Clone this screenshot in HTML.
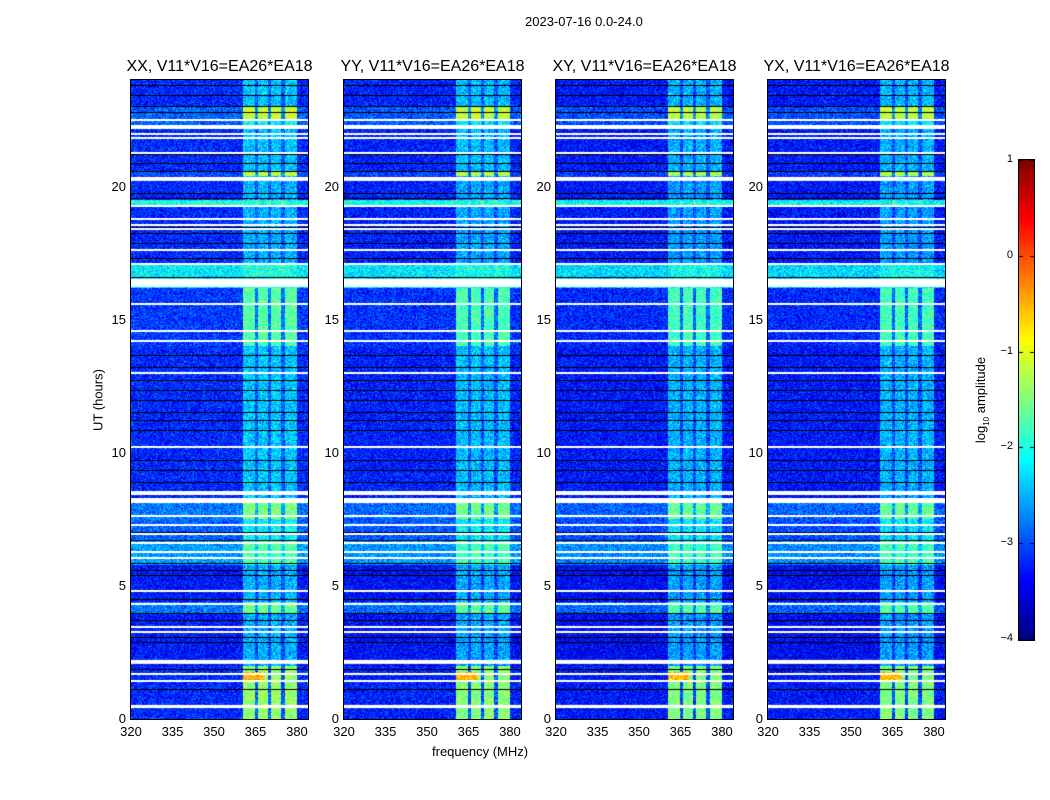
<!DOCTYPE html>
<html><head><meta charset="utf-8">
<style>
body{margin:0;background:#fff;font-family:"Liberation Sans",sans-serif;}
#root{position:relative;width:1050px;height:800px;overflow:hidden;background:#fff;}
.t{position:absolute;font-size:13px;color:#000;white-space:nowrap;}
.pt{position:absolute;font-size:16px;color:#000;white-space:nowrap;transform:translateX(-50%);}
canvas{position:absolute;}
.frame{position:absolute;border:1px solid #000;box-sizing:border-box;}
</style></head><body>
<div id="root">
<div class="t" style="left:525px;top:14px">2023-07-16 0.0-24.0</div>
<div class="t" style="left:432px;top:744px">frequency (MHz)</div>
<div class="t" style="left:98px;top:400px;transform:translate(-50%,-50%) rotate(-90deg)">UT (hours)</div>
<div class="t" style="left:982px;top:400px;transform:translate(-50%,-50%) rotate(-90deg)">log<sub style="font-size:8px">10</sub> amplitude</div>
<canvas id="cb" width="15" height="480" style="left:1019px;top:160px"></canvas>
<div class="frame" style="left:1018px;top:159px;width:17px;height:482px"></div>
</div>
<script>
// ---- data ----
const panelTitles=["XX, V11*V16=EA26*EA18","YY, V11*V16=EA26*EA18","XY, V11*V16=EA26*EA18","YX, V11*V16=EA26*EA18"];
const panelOffsets=[0,-0.05,-0.1,-0.1];
const xTicks=[320,335,350,365,380];
const yTicks=[0,5,10,15,20];
const cbTicks=[1,0,-1,-2,-3,-4];
// [startHour,endHour,bandLevel,backgroundLevel]
const segments=[[0,2,-1.4,-3.2],[2,4.0,-2.5,-3.3],[4.0,4.4,-1.6,-2.8],[4.4,5.8,-2.5,-3.3],[5.8,6.7,-1.7,-2.6],[6.7,7.5,-2.1,-2.9],[7.5,8.1,-1.5,-2.8],[8.1,14.0,-2.4,-3.2],[14.0,16.2,-1.7,-3.1],[16.2,17.1,-2.0,-2.2],[17.1,19.3,-2.5,-3.2],[19.3,19.5,-2.0,-2.0],[19.5,20.4,-2.5,-3.2],[20.4,20.6,-1.2,-3.0],[20.6,22.3,-2.4,-3.2],[22.3,22.5,-2.1,-2.9],[22.5,23.0,-1.1,-2.9],[23,24,-2.4,-3.2]];
const hotSpots=[[1.45,1.75,360.5,368,-0.45]];
const bandRange=[360.5,380];
const bandGaps=[365.5,370,375];
const flagThick=[[0.41,0.53],[2.07,2.22],[8.11,8.3],[16.23,16.53],[20.21,20.36],[22.16,22.31]];
const flagThin=[8.56,8.49,7.66,7.32,6.99,6.65,6.31,6.08,4.85,4.36,3.49,3.31,1.73,1.46,22.54,22.01,21.86,21.3,19.31,18.82,18.59,18.44,17.65,17.13,15.62,14.61,14.23,13.03,10.25];
const darkLines=[8.9,7.02,6.72,5.86,5.6,5.41,4.51,3.98,3.72,3.08,2.89,1.88,1.13,23.81,23.44,23.02,22.8,21.22,20.88,20.58,19.76,19.57,18.48,18.25,17.88,17.31,16.6,13.67,13.22,12.73,12.36,11.98,11.53,11.23,10.85,9.73,9.35];
// ---- layout ----
const root=document.getElementById('root');
const px=[131,344,556,768],PW=177,PT=80,PH=639,F0=320,F1=384,VMIN=-4,VMAX=1;
const xS=f=>(f-F0)/(F1-F0)*PW, yS=h=>PH-h/24*PH;
function jet(v){let t=(v-VMIN)/(VMAX-VMIN);t=Math.max(0,Math.min(1,t));
 const c=x=>Math.max(0,Math.min(1,1.5-Math.abs(4*t-x)));return [c(3)*255,c(2)*255,c(1)*255];}
function hash(a,b,c){let h=(a*374761393+b*668265263+c*2147483647)|0;h=(h^(h>>>13))*1274126177|0;return ((h^(h>>>16))>>>0)/4294967296;}
function level(h,f,p,i,j){
 let band=-3,bg=-3;
 for(const s of segments){if(h>=s[0]&&h<s[1]){band=s[2];bg=s[3];break;}}
 let v=bg;
 if(f>=bandRange[0]&&f<=bandRange[1]){v=band;for(const g of bandGaps){if(Math.abs(f-g)<0.6)v=bg+0.3;}}
 for(const s of hotSpots){if(h>=s[0]&&h<s[1]&&f>=s[2]&&f<s[3])v=s[4];}
 v+=panelOffsets[p]+(hash(i,j,p)-0.5)*0.9;
 return v;}
panelTitles.forEach((title,p)=>{
 const cv=document.createElement('canvas');cv.width=PW;cv.height=PH;
 cv.style.left=px[p]+'px';cv.style.top=PT+'px';
 
 
 root.appendChild(cv);
 const ctx=cv.getContext('2d');const im=ctx.createImageData(PW,PH);
 for(let j=0;j<PH;j++){const h=(PH-j-0.5)/PH*24;
  for(let i=0;i<PW;i++){const f=F0+(i+0.5)/PW*(F1-F0);
   const c=jet(level(h,f,p,i,j));const k=(j*PW+i)*4;
   im.data[k]=c[0];im.data[k+1]=c[1];im.data[k+2]=c[2];im.data[k+3]=255;}}
 ctx.putImageData(im,0,0);
 ctx.fillStyle='#000';
 darkLines.forEach(h=>ctx.fillRect(0,Math.round(yS(h)),PW,1));
 ctx.fillStyle='#fff';
 flagThin.forEach(h=>ctx.fillRect(0,Math.round(yS(h)),PW,2));
 flagThick.forEach(r=>ctx.fillRect(0,yS(r[1]),PW,yS(r[0])-yS(r[1])));
 const fr=document.createElement('div');fr.className='frame';
 fr.style.cssText=`left:${px[p]-1}px;top:${PT-1}px;width:${PW+2}px;height:${PH+2}px`;
 
 
 root.appendChild(fr);
 const tt=document.createElement('div');tt.className='pt';tt.textContent=title;
 tt.style.left=(px[p]+PW/2)+'px';tt.style.top='58px';
 
 
 root.appendChild(tt);
 xTicks.forEach(f=>{const d=document.createElement('div');d.className='t';d.textContent=f;
  d.style.left=(px[p]+xS(f))+'px';d.style.top='724px';d.style.transform='translateX(-50%)';
  
  
  root.appendChild(d);});
 yTicks.forEach(h=>{const d=document.createElement('div');d.className='t';d.textContent=h;
  d.style.left=(px[p]-5)+'px';d.style.top=(PT+yS(h)-8)+'px';d.style.transform='translateX(-100%)';
  
  
  root.appendChild(d);});
});
// colorbar
const cb=document.getElementById('cb').getContext('2d');
for(let j=0;j<480;j++){const v=VMAX-(j+0.5)/480*(VMAX-VMIN);const c=jet(v);
 cb.fillStyle=`rgb(${c[0]|0},${c[1]|0},${c[2]|0})`;cb.fillRect(0,j,15,1);}
cb.fillStyle='#000';
cbTicks.forEach(v=>{const y=Math.round((VMAX-v)/(VMAX-VMIN)*479);cb.fillRect(0,y,4,1);cb.fillRect(11,y,4,1);
 const d=document.createElement('div');d.className='t';d.style.fontSize='11px';
 d.textContent=v<0?'\u2212'+(-v):String(v);
 d.style.left='1013px';d.style.top=(160+y-7)+'px';d.style.transform='translateX(-100%)';
 
 
 root.appendChild(d);});
</script>
</body></html>
